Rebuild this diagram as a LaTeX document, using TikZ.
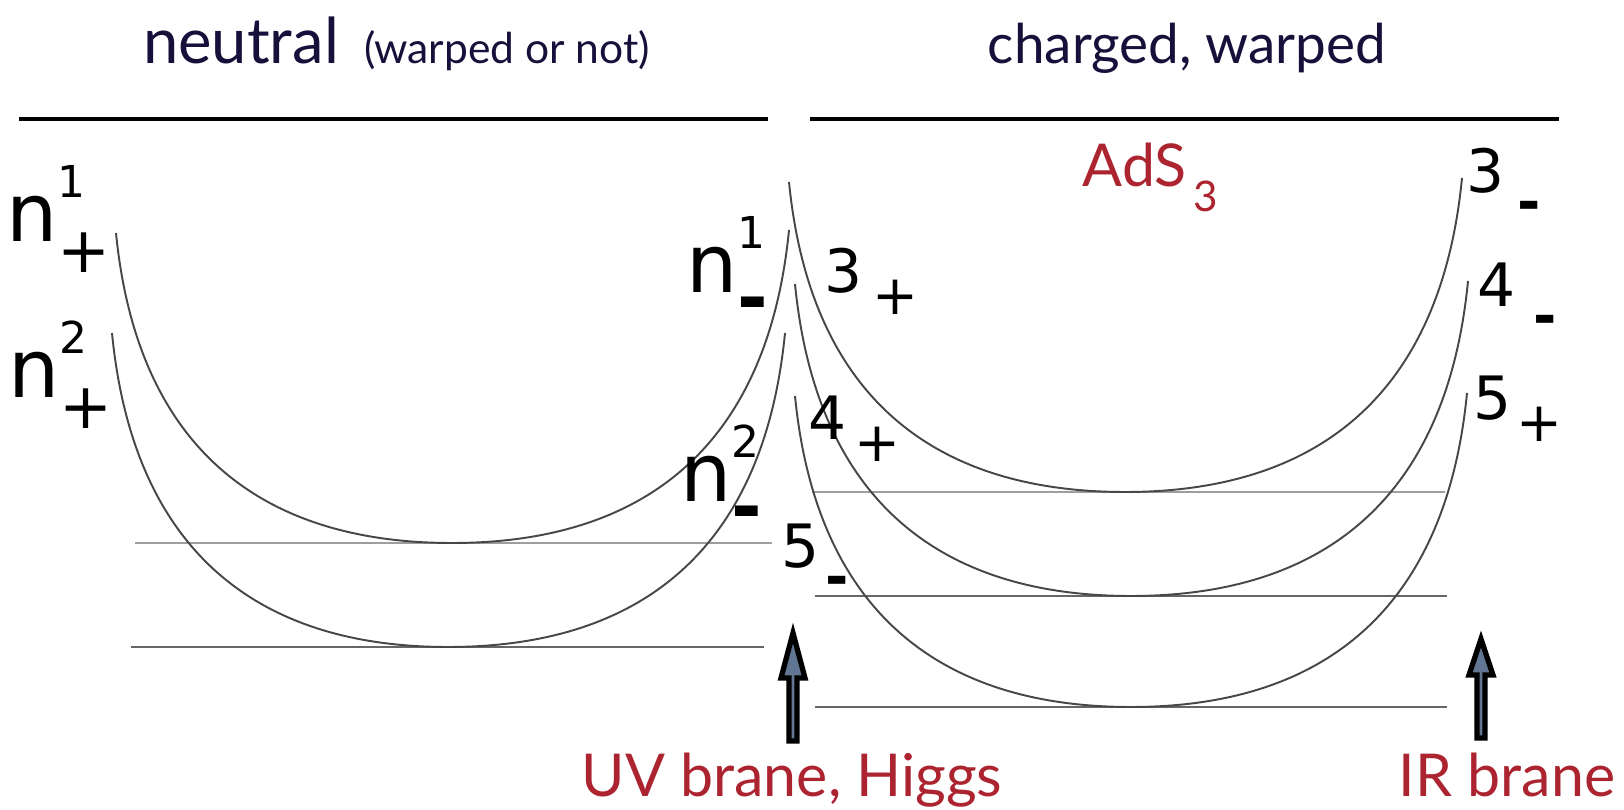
\documentclass[tikz,border=0pt]{standalone}
\usepackage{fontspec}
\setmainfont{Lato}
\newfontfamily\labfont{DejaVu Sans}
\usetikzlibrary{positioning}
\newlength{\px}
\setlength{\px}{0.01cm}
\definecolor{ink}{RGB}{22,16,58}
\definecolor{brane}{RGB}{172,36,48}
\definecolor{shaft}{RGB}{96,118,146}
\colorlet{wellline}{black!72}
\colorlet{lvlhi}{black!38}
\colorlet{lvllo}{black!60}
\tikzset{
  title/.style    ={inner sep=0pt, text=ink, font=\fontsize{16.4}{19}\selectfont},
  subtitle/.style ={inner sep=0pt, text=ink, font=\fontsize{12.1}{15}\selectfont},
  redlab/.style   ={inner sep=0pt, text=brane, font=\fontsize{16.8}{20}\selectfont},
  statelab/.style ={inner sep=0pt, anchor=base west,
                    font=\labfont\fontsize{17}{20}\selectfont},
  nlab/.style     ={statelab, font=\labfont\fontsize{23}{26}\selectfont},
  bar/.style      ={line width=1.3pt, black},
  well/.style     ={line width=0.55pt, wellline},
  lvlA/.style     ={line width=0.8pt, lvlhi},
  lvlB/.style     ={line width=0.6pt, lvllo},
  branearrow/.style={fill=shaft, draw=black, line width=1.5pt},
}
% signs hanging below the labels
\newcommand{\nplus}{\raisebox{-31\px}{\fontsize{18}{20}\selectfont+}}
\newcommand{\nminus}{\raisebox{-31\px}{\fontsize{21}{25}\selectfont\bfseries-}}
\newcommand{\splus}{\raisebox{-22\px}{\fontsize{15.6}{18}\selectfont+}}
\newcommand{\sminus}{\raisebox{-29\px}{\fontsize{16}{20}\selectfont\bfseries-}}
\newcommand{\nlvl}[2]{n\rlap{\raisebox{44\px}{\fontsize{12.5}{14}\selectfont#1}}#2}
\newcommand{\slvl}[3]{#1\kern#2\px#3}
% one well: left end, bottom, right end
\newcommand{\well}[6]{%
  \draw[well] (#1,#2) .. controls ({#1+0.06*(#3-#1)},{#2+0.66*(#4-#2)})
    and ({#3-0.6*(#3-#1)},#4) .. (#3,#4)
    .. controls ({#3+0.6*(#5-#3)},#4)
    and ({#5-0.06*(#5-#3)},{#6+0.66*(#4-#6)}) .. (#5,#6);}
% block arrow: x, tip, neck, foot
\newcommand{\branearrow}[4]{%
  \filldraw[branearrow] (#1-4,#4) -- (#1-4,#3) -- (#1-12,#3) -- (#1,#2)
    -- (#1+12,#3) -- (#1+4,#3) -- (#1+4,#4) -- cycle;}

\begin{document}
\begin{tikzpicture}[x=0.01cm, y=-0.01cm]
\useasboundingbox (0,0) rectangle (1624,810);

% headings
\node[title, anchor=base, font=\fontsize{18}{21}\selectfont] (neutral) at (241,64) {neutral};
\node[subtitle, anchor=base] (warped) at (507,64) {(warped or not)};
\node[title, anchor=base, font=\fontsize{15.6}{19}\selectfont] (charged) at (1187,64) {charged, warped};
\draw[bar] (19,119) -- (768,119);
\draw[bar] (810,119) -- (1559,119);

% neutral side
\draw[lvlA] (135,543) -- (772,543);
\draw[lvlB] (131,647) -- (764,647);
\well{116}{233}{452}{543}{789}{230}
\well{112}{333}{448}{647}{785}{333}

% charged side
\draw[lvlA] (812,492) -- (1445,492);
\draw[lvlB] (815,596) -- (1447,596);
\draw[lvlB] (815,707) -- (1447,707);
\foreach \xl/\yl/\xb/\yb/\xr/\yr in {789/182/1125/492/1462/178,
                                     795/284/1131/596/1468/281,
                                     795/396/1131/707/1467/393}{
  \well{\xl}{\yl}{\xb}{\yb}{\xr}{\yr}
}

\node[redlab, anchor=base west] (ads) at (1082,187)
  {AdS\kern7\px\raisebox{-25\px}{\fontsize{12}{14}\selectfont 3}};

% level labels
\node[nlab] (n1p) at (6,242)   {\nlvl{1}{\nplus}};
\node[nlab] (n2p) at (8,398)   {\nlvl{2}{\nplus}};
\node[nlab] (n1m) at (686,293) {\nlvl{1}{\nminus}};
\node[nlab] (n2m) at (680,502) {\nlvl{2}{\nminus}};
\node[statelab] (s3p) at (824,293)  {\slvl{3}{10}{\splus}};
\node[statelab] (s4p) at (808,440)  {\slvl{4}{8}{\splus}};
\node[statelab] (s5m) at (781,568)  {\slvl{5}{6}{\sminus}};
\node[statelab] (s3m) at (1466,193) {\slvl{3}{13}{\sminus}};
\node[statelab] (s4m) at (1477,307) {\slvl{4}{18}{\sminus}};
\node[statelab] (s5p) at (1473,420) {\slvl{5}{5}{\splus}};

% branes
\node[redlab, anchor=base] (uv) at (792,797) {UV brane, Higgs};
\node[redlab, anchor=base] (ir) at (1507,797) {IR brane};
\branearrow{793}{633}{678}{741}
\branearrow{1481}{639}{675}{738}

\end{tikzpicture}
\end{document}
